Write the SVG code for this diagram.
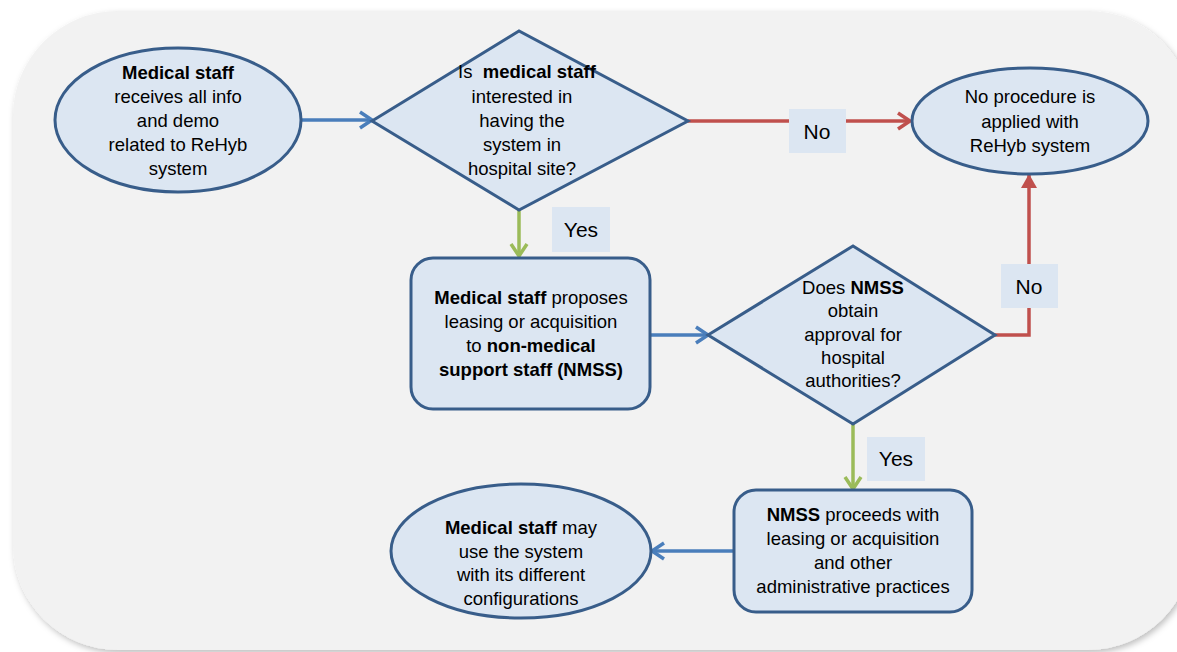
<svg xmlns="http://www.w3.org/2000/svg" width="1177" height="652" viewBox="0 0 1177 652">
<style>
.node{fill:#dce6f2;stroke:#385d8a;stroke-width:3}
.lbl{fill:#dce6f2;stroke:none}
text{font-family:"Liberation Sans",Arial,sans-serif;font-size:18.5px;fill:#000;text-anchor:middle}
.b{font-weight:bold}
.yn{font-size:21px}
.c{fill:none;stroke-width:3.5}
.blue{stroke:#4a7ebb}
.red{stroke:#c0504d}
.green{stroke:#9bbb59}
</style>
<defs>
<filter id="sh" x="-5%" y="-5%" width="110%" height="110%">
<feDropShadow dx="2" dy="3" stdDeviation="3" flood-color="#000" flood-opacity="0.25"/>
</filter>
<marker id="mb" markerUnits="userSpaceOnUse" viewBox="0 0 18 20" markerWidth="18" markerHeight="20" refX="14" refY="10" orient="auto"><path d="M2,2 L14,10 L2,18" fill="none" stroke="#4a7ebb" stroke-width="3.5"/></marker>
<marker id="mr" markerUnits="userSpaceOnUse" viewBox="0 0 18 20" markerWidth="18" markerHeight="20" refX="14" refY="10" orient="auto"><path d="M2,2 L14,10 L2,18" fill="none" stroke="#c0504d" stroke-width="3.5"/></marker>
<marker id="mg" markerUnits="userSpaceOnUse" viewBox="0 0 18 20" markerWidth="18" markerHeight="20" refX="14" refY="10" orient="auto"><path d="M2,2 L14,10 L2,18" fill="none" stroke="#9bbb59" stroke-width="3.5"/></marker>
<marker id="mrt" markerUnits="userSpaceOnUse" viewBox="0 0 14 16" markerWidth="14" markerHeight="16" refX="13" refY="8" orient="auto"><path d="M0,0 L14,8 L0,16 Z" fill="#c0504d"/></marker>
</defs>
<rect id="background" x="13" y="11" width="1180" height="639" rx="105" ry="105" fill="#f2f2f2" filter="url(#sh)"/>

<g id="connectors">
<line class="c blue" x1="302" y1="120" x2="372" y2="120" marker-end="url(#mb)"/>
<line class="c red" x1="688" y1="121" x2="910" y2="121" marker-end="url(#mr)"/>
<line class="c green" x1="519" y1="210" x2="519" y2="256" marker-end="url(#mg)"/>
<line class="c blue" x1="651" y1="335" x2="708" y2="335" marker-end="url(#mb)"/>
<polyline class="c red" points="995,335 1029,335 1029,175" marker-end="url(#mrt)"/>
<line class="c green" x1="853" y1="424" x2="853" y2="489" marker-end="url(#mg)"/>
<line class="c blue" x1="734" y1="551" x2="652" y2="551" marker-end="url(#mb)"/>
<g id="label-no-1"><rect class="lbl" x="789" y="109" width="57" height="44"/><text class="yn" x="817" y="139">No</text></g>
<g id="label-yes-1"><rect class="lbl" x="552" y="207" width="58" height="45"/><text class="yn" x="581" y="237">Yes</text></g>
<g id="label-no-2"><rect class="lbl" x="1001" y="264" width="57" height="44"/><text class="yn" x="1029" y="294">No</text></g>
<g id="label-yes-2"><rect class="lbl" x="867" y="437" width="58" height="44"/><text class="yn" x="896" y="466">Yes</text></g>
</g>

<g id="n1">
<ellipse class="node" cx="178" cy="120" rx="123" ry="72"/>
<text x="178" y="79" class="b">Medical staff</text>
<text x="178" y="103">receives all info</text>
<text x="178" y="127">and demo</text>
<text x="178" y="151">related to ReHyb</text>
<text x="178" y="175">system</text>
</g>

<g id="n2">
<polygon class="node" points="372,121 519,31 688,121 519,210"/>
<text x="527" y="78" xml:space="preserve">Is  <tspan class="b">medical staff</tspan></text>
<text x="522" y="103">interested in</text>
<text x="522" y="127">having the</text>
<text x="522" y="151">system in</text>
<text x="522" y="175">hospital site?</text>
</g>

<g id="n3">
<ellipse class="node" cx="1030" cy="121" rx="118" ry="53"/>
<text x="1030" y="103">No procedure is</text>
<text x="1030" y="128">applied with</text>
<text x="1030" y="152">ReHyb system</text>
</g>

<g id="n4">
<rect class="node" x="411" y="258" width="239" height="151" rx="22" ry="22"/>
<text x="531" y="304"><tspan class="b">Medical staff</tspan> proposes</text>
<text x="531" y="328">leasing or acquisition</text>
<text x="531" y="352">to <tspan class="b">non-medical</tspan></text>
<text x="531" y="376" class="b">support staff (NMSS)</text>
</g>

<g id="n5">
<polygon class="node" points="708,335 853,246 995,335 853,424"/>
<text x="853" y="294">Does <tspan class="b">NMSS</tspan></text>
<text x="853" y="317">obtain</text>
<text x="853" y="341">approval for</text>
<text x="853" y="364">hospital</text>
<text x="853" y="387">authorities?</text>
</g>

<g id="n6">
<rect class="node" x="734" y="490" width="238" height="122" rx="22" ry="22"/>
<text x="853" y="521"><tspan class="b">NMSS</tspan> proceeds with</text>
<text x="853" y="545">leasing or acquisition</text>
<text x="853" y="569">and other</text>
<text x="853" y="593">administrative practices</text>
</g>

<g id="n7">
<ellipse class="node" cx="521" cy="551" rx="130" ry="67"/>
<text x="521" y="534"><tspan class="b">Medical staff</tspan> may</text>
<text x="521" y="558">use the system</text>
<text x="521" y="581">with its different</text>
<text x="521" y="605">configurations</text>
</g>
</svg>
